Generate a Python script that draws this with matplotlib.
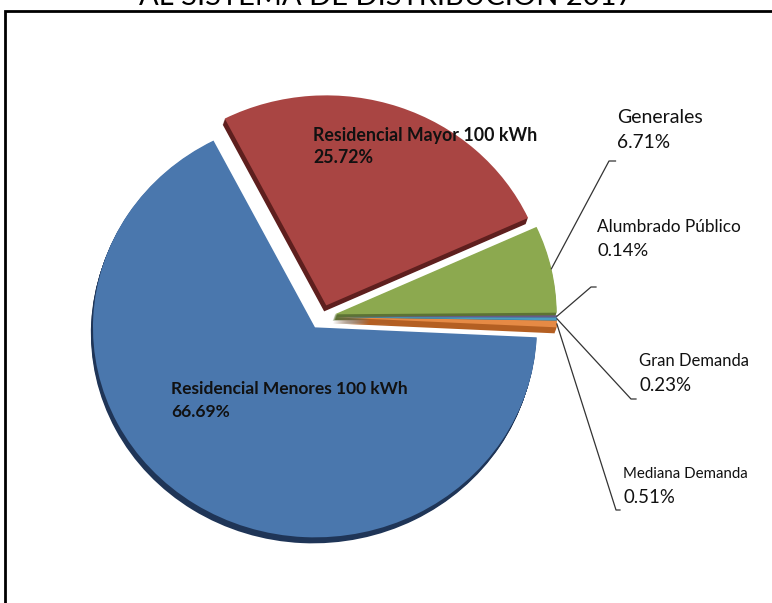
import numpy as np
import matplotlib.pyplot as plt
from matplotlib.lines import Line2D
from matplotlib.patches import Rectangle

# datos del grafico
categorias = ['Residencial Menores 100 kWh', 'Mediana Demanda', 'Gran Demanda',
              'Alumbrado Público', 'Generales', 'Residencial Mayor 100 kWh']
porcentajes = [66.69, 0.51, 0.23, 0.14, 6.71, 25.72]
titulo = 'AL SISTEMA DE DISTRIBUCIÓN 2017'

# estilo
colores = ['#4A77AD', '#E68A45', '#4A9BC0', '#675A86', '#8CA94F', '#A94543']
colores_lado = ['#1F3557', '#B45F22', '#2D6F87', '#433A5A', '#5C7334', '#5E1F1E']
fuente = ['Lato', 'DejaVu Sans']

W, H = 772, 603
esc_y = 0.946            # achatamiento vertical (efecto 3D)
centro = (322, (H - 317) / esc_y)
radio = 222
separa = [13] * len(porcentajes)
prof = 6                 # grosor de la cara lateral en px
inicio = 117.2

fig = plt.figure(figsize=(W / 100, H / 100), dpi=100)
ax = fig.add_axes([0, 0, 1, 1])

# cara lateral: copias oscuras desplazadas hacia abajo
for k in range(prof, 0, -1):
    c = (centro[0] - 0.35 * k, centro[1] - k / esc_y)
    ax.pie(porcentajes, colors=colores_lado, startangle=inicio, radius=radio,
           center=c, explode=separa, wedgeprops=dict(linewidth=0))

cunas, _ = ax.pie(porcentajes, colors=colores, startangle=inicio, radius=radio,
                  center=centro, explode=separa, wedgeprops=dict(linewidth=0))

ax.set_aspect('auto')
ax.set_xlim(0, W)
ax.set_ylim(0, H / esc_y)
ax.axis('off')

# marco
fig.add_artist(Rectangle((5 / W, -0.05), 1.2, 1 - 11 / H + 0.05, fill=False,
                         edgecolor='black', linewidth=2, transform=fig.transFigure))

# titulo (cortado por arriba como en el original)
fig.text(386 / W, 1 - 5 / H, titulo, ha='center', va='baseline', fontsize=21,
         family=fuente, color='black')

# etiquetas: (x izq, base linea 1, base linea 2, tam1, tam2, negrita)
pos_etq = {
    5: (313, 141, 163, 12.8, 12.8, 'bold'),
    0: (171, 394, 417, 12.5, 12.5, 'bold'),
    4: (617, 123, 148.5, 14, 13.8, 'normal'),
    3: (597, 232, 256.5, 12.4, 13.3, 'normal'),
    2: (639, 365.5, 391, 12, 13.5, 'normal'),
    1: (623, 478.5, 503, 10.8, 13.4, 'normal'),
}
for i, (x, y1, y2, t1, t2, peso) in pos_etq.items():
    fig.text(x / W, 1 - y1 / H, categorias[i], ha='left', va='baseline',
             fontsize=t1, fontweight=peso, family=fuente, color='#111111')
    fig.text(x / W, 1 - y2 / H, f'{porcentajes[i]:.2f}%', ha='left', va='baseline',
             fontsize=t2, fontweight=peso, family=fuente, color='#111111')

# lineas guia: (codo x, codo y, fin x)
guias = {
    4: (609, 161, 615.5),
    3: (591, 287, 596),
    2: (631, 399, 636),
    1: (616, 510, 620),
}
fig.canvas.draw()
for i, (cx, cy, fx) in guias.items():
    w = cunas[i]
    tm = np.deg2rad((w.theta1 + w.theta2) / 2)
    px, py = ax.transData.transform((w.center[0] + w.r * np.cos(tm),
                                     w.center[1] + w.r * np.sin(tm)))
    xs = [px, cx, fx]
    ys = [py, H - cy, H - cy]
    fig.add_artist(Line2D(np.array(xs) / W, np.array(ys) / H, color='#333333',
                          linewidth=0.9, transform=fig.transFigure))

fig.savefig('out.png', dpi=100)
